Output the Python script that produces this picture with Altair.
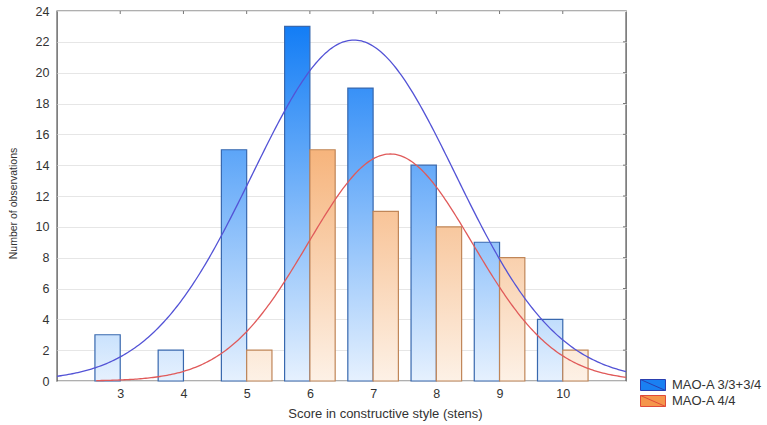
import altair as alt
import numpy as np
import pandas as pd

# Histogram counts per sten score for the two genotype groups
scores = [3, 4, 5, 6, 7, 8, 9, 10]
counts_a = [3, 2, 15, 23, 19, 14, 9, 4]     # MAO-A 3/3+3/4
counts_b = [0, 0, 2, 15, 11, 10, 8, 2]      # MAO-A 4/4
series_names = ["MAO-A 3/3+3/4", "MAO-A 4/4"]
y_ticks = list(range(0, 25, 2))

X_DOMAIN = [2, 11]
Y_MAX = 24
BAR_W = 0.4
FONT = "Liberation Sans"

# Style
BLUE_LIGHT, BLUE_DARK = "#e6f1fe", "#0a78f5"
ORANGE_LIGHT, ORANGE_DARK = "#fdf1e6", "#f28f3c"
BLUE_EDGE, ORANGE_EDGE = "#3868ae", "#c08658"
BLUE_CURVE, RED_CURVE = "#5353d6", "#e05a5a"
LEGEND_FILL = ["#1a80f2", "#f5964c"]
LEGEND_LINE = ["#2a3fb0", "#e04a3a"]


def mix(c0, c1, t):
    a = [int(c0[i:i + 2], 16) for i in (1, 3, 5)]
    b = [int(c1[i:i + 2], 16) for i in (1, 3, 5)]
    return "#" + "".join(f"{round(x + (y - x) * t):02x}" for x, y in zip(a, b))


x_scale = alt.Scale(domain=X_DOMAIN, nice=False, zero=False)
y_scale = alt.Scale(domain=[0, Y_MAX], nice=False)

x_axis = alt.Axis(
    values=scores, title="Score in constructive style (stens)",
    grid=False, ticks=False, tickSize=0, domain=False,
    labelFont=FONT, labelFontSize=12.5, labelColor="#333333", labelPadding=6,
    titleFont=FONT, titleFontSize=13, titleFontWeight="normal", titleColor="#333333",
    titleX=328, titleY=32, titleAlign="center", titleBaseline="middle",
)
y_axis = alt.Axis(
    values=y_ticks, title="Number of observations",
    grid=True, gridColor="#e6e6e6", gridWidth=1,
    ticks=False, tickSize=0, domain=False,
    labelFont=FONT, labelFontSize=12.5, labelColor="#333333", labelPadding=8,
    titleFont=FONT, titleFontSize=10.5, titleFontWeight="normal", titleColor="#333333",
    titleAngle=270, titleX=-44, titleY=192, titleAlign="center", titleBaseline="middle",
)


def bar_layer(lo, hi, n, light, dark, edge):
    # gradient follows the y scale: colour at height n is the same for every bar
    top = mix(light, dark, n / Y_MAX)
    grad = alt.Gradient(
        gradient="linear",
        stops=[alt.GradientStop(color=light, offset=0), alt.GradientStop(color=top, offset=1)],
        x1=0, x2=0, y1=1, y2=0,
    )
    df = pd.DataFrame({"lo": [lo], "hi": [hi], "n": [n]})
    return alt.Chart(df).mark_bar(color=grad, stroke=edge, strokeWidth=1.2).encode(
        x=alt.X("lo:Q", scale=x_scale, axis=x_axis),
        x2="hi:Q",
        y=alt.Y("n:Q", scale=y_scale, axis=y_axis),
        y2=alt.datum(0),
    )


layers = []
for s, n in zip(scores, counts_a):
    if n > 0:
        layers.append(bar_layer(s - BAR_W, s, n, BLUE_LIGHT, BLUE_DARK, BLUE_EDGE))
for s, n in zip(scores, counts_b):
    if n > 0:
        layers.append(bar_layer(s, s + BAR_W, n, ORANGE_LIGHT, ORANGE_DARK, ORANGE_EDGE))


def normal_fit(counts, start):
    # expected-count normal curve fitted to the grouped scores (bin width 1)
    v = np.array(scores, float)
    c = np.array(counts, float)
    total = c.sum()
    mean = (v * c).sum() / total
    sd = np.sqrt(((v - mean) ** 2 * c).sum() / (total - 1))
    xs = np.linspace(start, X_DOMAIN[1], 300)
    ys = total / (sd * np.sqrt(2 * np.pi)) * np.exp(-0.5 * ((xs - mean) / sd) ** 2)
    return pd.DataFrame({"score": xs, "expected": ys})


for counts, start, col in [(counts_a, X_DOMAIN[0], BLUE_CURVE), (counts_b, 2.62, RED_CURVE)]:
    layers.append(
        alt.Chart(normal_fit(counts, start)).mark_line(color=col, strokeWidth=1.3).encode(
            x=alt.X("score:Q", scale=x_scale, axis=x_axis),
            y=alt.Y("expected:Q", scale=y_scale, axis=y_axis),
        )
    )

# inward frame ticks on the top and right edges
top_ticks = alt.Chart(pd.DataFrame({"score": scores})).mark_rule(color="#777777", strokeWidth=1).encode(
    x=alt.X("score:Q", scale=x_scale, axis=x_axis),
    y=alt.value(0), y2=alt.value(3),
)
right_ticks = alt.Chart(pd.DataFrame({"tick": y_ticks[1:-1]})).mark_rule(color="#777777", strokeWidth=1).encode(
    y=alt.Y("tick:Q", scale=y_scale, axis=y_axis),
    x=alt.value(566), x2=alt.value(569),
)
layers += [top_ticks, right_ticks]

# legend carrier: wide swatch (path spans twice the unit box) with a diagonal
swatch = "M-2,-0.88H2V0.88H-2Z M-2,-0.88L2,0.88"
legend_opts = dict(
    title=None, orient="none", legendX=589, legendY=367,
    symbolType=swatch, symbolSize=156, symbolOpacity=1, symbolStrokeWidth=1,
    labelFont=FONT, labelFontSize=13, labelColor="#333333", labelOffset=12,
    rowPadding=0,
)
legend_layer = alt.Chart(pd.DataFrame({"series": series_names})).mark_point(
    opacity=0, filled=True
).encode(
    x=alt.value(0), y=alt.value(0),
    fill=alt.Fill("series:N", scale=alt.Scale(domain=series_names, range=LEGEND_FILL),
                  legend=alt.Legend(**legend_opts)),
    stroke=alt.Stroke("series:N", scale=alt.Scale(domain=series_names, range=LEGEND_LINE),
                      legend=alt.Legend(**legend_opts)),
)
layers.append(legend_layer)

chart = alt.layer(*layers).properties(
    width=569, height=370,
    autosize=alt.AutoSizeParams(type="none"),
    padding={"left": 57, "top": 11, "right": 141, "bottom": 44},
    background="white",
).configure_view(stroke="#606060", strokeWidth=1.4)

chart.save("out.html", embed_options={"renderer": "svg", "actions": False})
